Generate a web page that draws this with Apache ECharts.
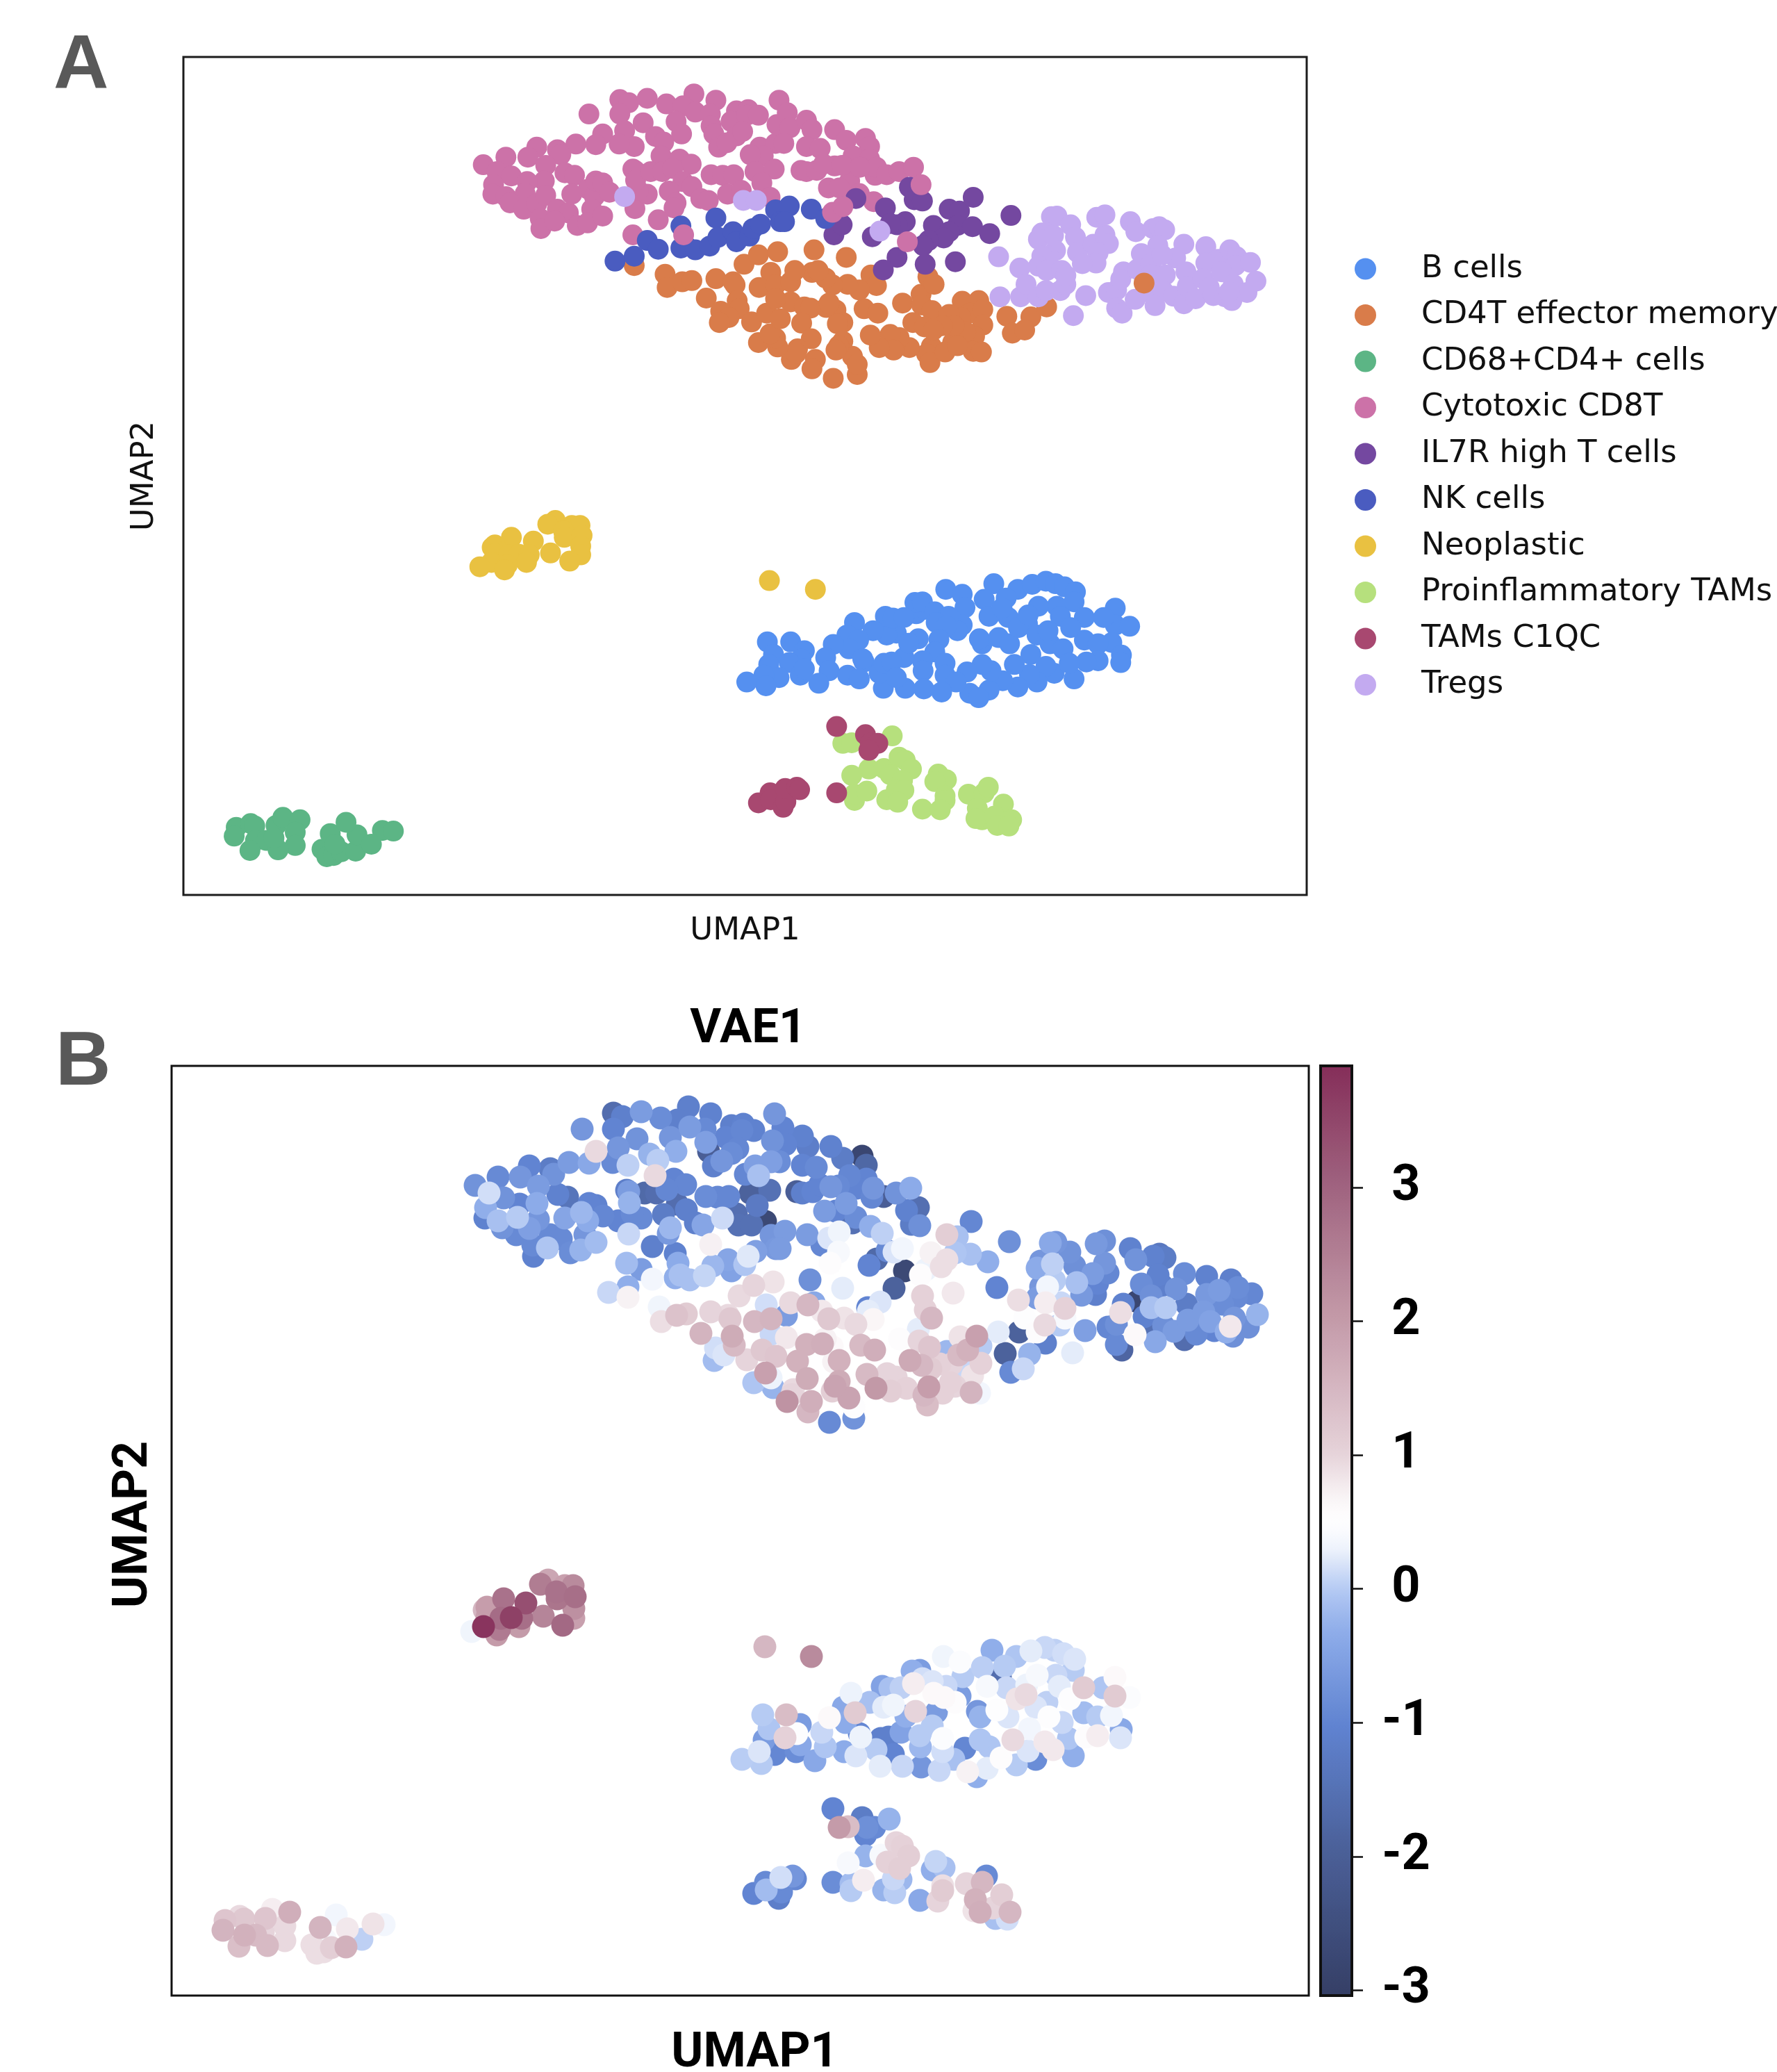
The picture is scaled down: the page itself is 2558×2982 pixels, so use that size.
<!DOCTYPE html>
<html><head><meta charset="utf-8">
<style>html,body{margin:0;padding:0;background:#fff}#c{width:2558px;height:2982px}</style>
<script src="https://cdn.jsdelivr.net/npm/echarts@6/dist/echarts.min.js"></script>
</head><body><div id="c"></div>
<script>
// Each row: [UMAP1, UMAP2, VAE1]. The embedding has no printed ticks, so its units are those of the picture.
const categories = ['B cells','CD4T effector memory','CD68+CD4+ cells','Cytotoxic CD8T','IL7R high T cells','NK cells','Neoplastic','Proinflammatory TAMs','TAMs C1QC','Tregs'];
const colorTicks = [-3,-2,-1,0,1,2,3];
const bCells = [[1358,2384,.33],[1382,2392,.45],[1428,2375,-.3],[1414,2400,.03],[1386,2413,0],[1463,2384,-.05],[1484,2376,.25],[1446,2398,0],[1504,2371,.1],[1518,2375,.05],[1531,2380,.15],[1547,2388,.2],[1520,2411,.1],[1493,2411,.4],[1545,2404,0],[1525,2427,.25],[1560,2429,1.15],[1605,2414,.6],[1605,2441,1.15],[1588,2429,-.05],[1626,2443,.45],[1560,2465,-.15],[1600,2469,.35],[1580,2471,0],[1614,2489,-.4],[1613,2501,.2],[1580,2498,.75],[1563,2500,.55],[1545,2527,-.3],[1516,2518,.8],[1504,2507,.8],[1540,2445,.5],[1510,2471,.5],[1529,2479,.1],[1538,2502,-.05],[1491,2532,-.85],[1482,2488,.35],[1480,2520,.2],[1458,2504,.95],[1463,2540,0],[1441,2530,.55],[1421,2545,.25],[1393,2550,.7],[1406,2557,-.3],[1424,2514,-.05],[1411,2504,-.05],[1389,2516,-.95],[1411,2471,-.25],[1407,2463,-.7],[1382,2441,-.6],[1375,2450,.55],[1435,2461,.5],[1451,2471,.2],[1449,2429,.1],[1421,2427,.4],[1477,2439,.95],[1464,2445,.85],[1491,2457,.2],[1478,2425,.3],[1507,2450,.05],[1440,2414,-1.6],[1315,2423,.75],[1328,2416,.15],[1313,2405,-.3],[1324,2404,-.6],[1342,2420,.2],[1362,2427,.1],[1344,2437,.6],[1359,2443,.6],[1318,2463,1],[1348,2464,-.6],[1342,2484,0],[1324,2498,0],[1325,2514,-.2],[1357,2502,.45],[1357,2521,.15],[1373,2532,-.1],[1352,2548,.1],[1326,2543,-.7],[1299,2542,.1],[1267,2542,.25],[1297,2493,-.5],[1286,2454,.33],[1272,2457,.25],[1304,2470,-.3],[1270,2427,-.5],[1281,2430,-.1],[1297,2429,.05],[1252,2450,-.1],[1225,2437,.3],[1214,2457,-.4],[1231,2465,1.15],[1217,2479,-.35],[1194,2472,.6],[1183,2493,.1],[1188,2514,-.05],[1173,2534,-.4],[1215,2521,-.35],[1239,2500,.3],[1237,2495,-.95],[1232,2527,.2],[1261,2518,0],[1268,2502,-1.1],[1279,2500,-1.1],[1286,2525,-1],[1132,2468,1.4],[1098,2468,0],[1107,2488,-.05],[1152,2482,-.6],[1147,2495,.5],[1130,2501,1.05],[1100,2504,-.6],[1115,2525,-.95],[1146,2521,-.85],[1093,2521,.2],[1096,2538,0],[1068,2532,.02],[1152,2511,-.4]];
const cd4t = [[904,1867,.7],[949,1881,.33],[952,1902,.9],[974,1893,1.3],[988,1891,1.15],[1023,1888,1],[1009,1919,1.55],[1048,1893,.95],[1051,1898,1.2],[1064,1865,.95],[1085,1850,1],[1113,1845,.85],[1054,1923,1.7],[1057,1936,1.45],[1030,1940,.15],[1042,1950,.2],[1028,1958,-.15],[1103,1878,.15],[1086,1902,1.5],[1110,1898,1.55],[1166,1842,-.8],[1213,1854,.25],[1132,1893,-.6],[1132,1925,.8],[1152,1933,.5],[1161,1935,1.6],[1184,1934,1.65],[1198,1938,.6],[1188,1927,.7],[1148,1959,1.6],[1208,1958,1.6],[1200,1960,.7],[1239,1936,1.45],[1259,1943,1.65],[1295,1927,.55],[1322,1913,.25],[1332,1885,1.05],[1341,1897,1.5],[1323,1930,1],[1338,1939,1.25],[1382,1924,.85],[1406,1923,1.9],[1393,1943,1.6],[1380,1950,1.45],[1363,1945,-.2],[1412,1937,0],[1412,1962,1.05],[1400,1980,.85],[1387,1973,.1],[1398,2004,1.55],[1368,1990,1.05],[1370,1963,1],[1353,1963,1.05],[1337,1996,1.95],[1330,2008,1.5],[1335,2022,1.4],[1357,2005,1.05],[1375,1995,1],[1310,1958,1.75],[1327,1965,1.5],[1340,1970,1.15],[1305,1998,1.05],[1290,1982,1],[1277,1977,1],[1282,2002,1.1],[1261,1998,2.05],[1248,1978,1.45],[1222,2012,1.85],[1208,1988,1.7],[1202,1995,1.85],[1198,2002,1.1],[1168,2017,1.65],[1163,2032,1.5],[1162,1984,1.7],[1142,2000,.95],[1133,2017,2.15],[1140,2007,1],[1194,2047,-.9],[1229,2041,-.75],[1229,2025,.5],[1113,1997,-.25],[1085,1990,-.05],[1110,1983,.3],[1102,1976,1.9],[1410,2005,.35],[1249,1882,-1],[1250,1887,.25],[1257,1899,.65],[1232,1906,.95],[1215,1897,.85],[1193,1898,1.2],[1183,1887,.8],[1163,1878,1.5],[1138,1875,.95],[1172,1875,-.4],[1075,1957,1],[1097,1943,1.2],[1117,1952,1.25],[1110,1920,.1],[1447,1948,-1.9],[1482,1949,-.25],[1505,1933,-1.1],[1455,1975,-.9],[1473,1970,.1]];
const cd4tOverTregs = [[1647,1895,-1.05]];
const cd68cd4 = [[324,2764,1.25],[345,2758,.95],[351,2762,1.2],[321,2778,1.55],[352,2785,1.6],[368,2785,1.45],[344,2801,1.35],[382,2761,1.25],[392,2748,.75],[417,2752,1.65],[410,2772,.95],[410,2793,.95],[385,2800,1.45],[379,2781,1],[461,2774,1.55],[449,2799,.9],[456,2811,.9],[466,2809,.9],[477,2803,1.1],[498,2802,1.6],[500,2776,.8],[537,2769,.85],[553,2770,.35],[521,2791,.05],[484,2756,.35],[468,2791,.4]];
const cytotoxic = [[838,1625,-.7],[858,1657,.95],[883,1602,-1.6],[896,1607,-1.1],[923,1600,-.6],[951,1609,-.85],[991,1593,-1.1],[1023,1603,-1.05],[975,1612,-1.1],[993,1622,-.6],[1015,1625,-.9],[1016,1644,-.55],[883,1625,-1],[917,1639,-.75],[890,1652,-.7],[965,1637,-.7],[973,1657,-.3],[935,1661,-.25],[947,1670,.02],[904,1677,.05],[882,1673,-.9],[943,1692,.95],[848,1674,-.4],[819,1673,-.6],[762,1678,-1],[749,1694,-.7],[792,1682,-1.2],[797,1690,-.75],[717,1694,-.9],[684,1706,-.75],[704,1717,.15],[725,1724,-.75],[775,1707,-.6],[803,1719,-1.05],[817,1723,-1.4],[773,1732,-.35],[748,1733,-1],[699,1738,-.3],[698,1753,-1.05],[717,1757,-.1],[745,1752,0],[723,1767,-.75],[743,1777,-.9],[762,1768,-.55],[775,1755,-.7],[792,1777,-.9],[808,1783,-.9],[767,1792,-.9],[768,1808,-1.05],[788,1796,-.05],[821,1803,-.85],[837,1745,-.2],[813,1753,-.45],[846,1757,-.35],[848,1732,-1],[858,1735,-1.05],[868,1750,-.95],[842,1777,-.7],[836,1799,-.25],[858,1788,-.15],[905,1776,.1],[923,1753,-.9],[910,1747,-.9],[902,1713,-1.15],[905,1715,-.6],[906,1731,-.25],[928,1717,-1.7],[945,1717,-1.6],[970,1697,-1],[987,1705,-.95],[960,1712,-.95],[975,1733,-1.6],[955,1748,-1.2],[988,1741,-1.1],[965,1767,-.2],[962,1775,-.65],[939,1794,-1.1],[1001,1760,-1.1],[1012,1763,-.45],[1016,1722,-.85],[1033,1723,-.95],[1049,1722,-.95],[1040,1753,.12],[902,1818,-.15],[1020,1657,-2],[1053,1620,-1.1],[1070,1618,-1.05],[1045,1637,-1],[1053,1660,-.85],[1068,1627,-.95],[1085,1627,-1.05],[1027,1678,-1.1],[1039,1671,-.7],[1062,1653,-.95],[1087,1678,-.55],[1110,1672,-.55],[1092,1692,-.1],[1073,1690,-.95],[1115,1603,-.7],[1112,1642,-.75],[1080,1717,-1.9],[1108,1713,-1.5],[1090,1735,-1.25],[1060,1747,-1.55],[1102,1758,-2.7],[1127,1623,-1],[1131,1647,-1],[1155,1635,-1.05],[1163,1650,-1.15],[1196,1650,-1.05],[1213,1667,-1.2],[1241,1664,-2.8],[1247,1677,-1.75],[1155,1677,-1],[1175,1680,-.9],[1122,1672,-.85],[1223,1692,-.95],[1247,1697,-1],[1147,1715,-2],[1155,1717,-1.1],[1170,1715,-1],[1196,1708,-.7],[1218,1732,-.6],[1187,1743,-.6],[1203,1743,-1],[1232,1752,-.85],[1255,1723,-.95],[1257,1710,-.7],[1272,1722,-2],[1290,1717,-.75],[1311,1710,-.35],[1253,1765,-.3],[1180,1705,-1],[1207,1707,-.9],[1233,1710,-1]];
const cytotoxicOver = [[976,1818,-.35],[1193,1782,.2],[1208,1773,.33],[1302,1829,-2.7],[1322,1738,-1.55]];
const il7r = [[1305,1742,-1.05],[1227,1760,-1.5],[1270,1775,.05],[1312,1762,-1.2],[1324,1764,-.8],[1363,1777,1.1],[1378,1780,-.1],[1375,1803,-.05],[1397,1805,-.1],[1422,1816,-.3],[1340,1803,.7],[1363,1813,.9],[1355,1823,.9],[1333,1827,.3],[1325,1835,.55],[1328,1865,1.05],[1372,1861,.8],[1287,1854,-1.9],[1267,1874,.2],[1299,1797,.35],[1287,1802,.2],[1277,1800,-.9],[1251,1821,-1],[1195,1818,.55],[1207,1802,.4],[1398,1758,-.95],[1453,1787,-.8]];
const nk = [[972,1804,-1.05],[1023,1791,.72],[979,1835,-.1],[972,1839,-.3],[993,1842,-.1],[1014,1836,.08],[1026,1822,-.2],[1048,1813,-.45],[1053,1829,-.5],[1072,1820,-.05],[1077,1808,.22],[1088,1801,-.55],[923,1827,-.6],[939,1841,.36],[876,1860,.1],[904,1852,-.3],[1110,1778,-.7],[1117,1797,-.65],[1130,1772,-.6],[1123,1797,-.6],[1162,1777,-.6],[1183,1792,-.95]];
const neoplastic = [[1101,2370,1.5],[1168,2384,2.3],[789,2274,1.8],[813,2282,1.9],[778,2280,2.55],[825,2282,2.3],[801,2291,2.75],[802,2301,2.7],[828,2298,2.8],[826,2315,2.2],[826,2329,1.9],[725,2301,2.75],[757,2307,3.35],[701,2313,1.95],[697,2317,1.5],[701,2327,1.9],[721,2329,2.85],[736,2328,3.6],[751,2329,2.8],[782,2326,2.4],[810,2339,2.9],[696,2341,3.8],[747,2341,2],[719,2345,2.6],[715,2353,2],[679,2348,.33]];
const proinflammatory = [[1208,2630,2],[1221,2629,1.4],[1280,2618,-.25],[1246,2671,-.25],[1268,2670,.4],[1290,2652,1],[1299,2657,1.05],[1308,2671,1.1],[1277,2680,1.05],[1295,2689,1.1],[1221,2681,.4],[1225,2721,0],[1225,2711,-.15],[1243,2706,.75],[1286,2704,.1],[1297,2705,-.2],[1272,2720,-.25],[1288,2724,.02],[1324,2735,-.4],[1347,2679,.08],[1359,2688,-.1],[1342,2691,-.3],[1357,2714,.9],[1357,2721,1.15],[1350,2736,1],[1391,2711,1],[1414,2709,1.5],[1420,2700,-.9],[1404,2734,1.6],[1411,2752,1.65],[1402,2750,.85],[1442,2727,1.1],[1429,2746,1],[1454,2752,1.5],[1433,2761,-.1],[1450,2762,.15]];
const tamsC1qc = [[1199,2603,-1],[1241,2616,-1.2],[1248,2630,-.8],[1259,2630,-.9],[1246,2641,-1],[1199,2709,-.85],[1085,2725,-1],[1102,2709,-.9],[1103,2720,-.15],[1121,2732,-1.15],[1125,2723,-.9],[1124,2702,.15],[1141,2700,-.7],[1145,2704,-.95]];
const tregs = [[1435,1853,-1],[1437,1917,.25],[1544,1947,.25],[1466,1871,.9],[1467,1917,-1.9],[1475,1897,.5],[1493,1917,.55],[1504,1907,.95],[1525,1907,0],[1533,1897,.4],[1562,1915,-.55],[1512,1789,-.4],[1520,1788,-.7],[1540,1802,-.75],[1498,1815,-.7],[1493,1825,-.35],[1515,1819,.05],[1547,1822,-.8],[1518,1843,0],[1508,1852,.35],[1498,1852,-.7],[1493,1868,-.6],[1505,1875,.75],[1527,1875,.1],[1533,1883,1.05],[1550,1846,-.1],[1573,1833,-.6],[1590,1818,-.7],[1578,1790,-.65],[1590,1786,-.8],[1595,1832,-.95],[1580,1847,-1],[1577,1863,-1.1],[1557,1864,-.65],[1595,1910,-.95],[1607,1906,-.8],[1607,1935,-.9],[1615,1943,-1.8],[1617,1877,-1.05],[1613,1889,.9],[1634,1921,.6],[1637,1873,-2.8],[1627,1797,-1.05],[1635,1813,-.75],[1660,1808,-1.05],[1669,1805,-1.3],[1677,1810,-1.2],[1667,1835,-1.05],[1705,1833,-.85],[1643,1848,-.85],[1657,1865,-.8],[1693,1855,-.75],[1673,1850,-1.1],[1657,1882,-.1],[1678,1882,0],[1708,1877,-1.2],[1655,1910,-1.5],[1675,1908,-.8],[1663,1931,-.4],[1690,1916,-.6],[1705,1928,-1.6],[1710,1900,-.6],[1722,1920,-.9],[1737,1837,-1.05],[1755,1857,-.6],[1737,1863,-.65],[1733,1888,-.6],[1742,1902,-.5],[1748,1915,-1],[1772,1842,-1.1],[1782,1853,-.85],[1780,1867,-.9],[1802,1862,-.95],[1760,1877,-.85],[1777,1897,-.7],[1797,1910,-.8],[1765,1917,-.3],[1775,1923,-.8],[1771,1909,.8],[1810,1892,-.25],[890,1757,-1],[1063,1763,-1.5],[1082,1763,-1.5],[1262,1812,-1.7]];

const umap1Range = [247, 1884], umap2Range = [1534, 2872], vaeRange = [-3.04, 3.91];
const clusterColors = ['#5590f0','#d97c4a','#5cb585','#cc72a8','#7448a0','#4a5cc0','#e9c141','#b6e07d','#a84870','#c3aaf0'];
const clusterRows = [bCells,cd4t,cd68cd4,cytotoxic,il7r,nk,neoplastic,proinflammatory,tamsC1qc,tregs];
const overlays = [[1,cd4tOverTregs],[3,cytotoxicOver]];
const rampStops = [[-3.04,'#353f66'],[-2,'#4a5e96'],[-1,'#6084d2'],[-.3,'#90aeea'],[0,'#b4caf3'],[.3,'#eef3fc'],[.5,'#ffffff'],[.7,'#f8f3f5'],[1,'#e6d3da'],[2,'#c49ba9'],[3,'#a06480'],[3.91,'#852e59']];

function hex(c){return [1,3,5].map(i=>parseInt(c.substr(i,2),16));}
function ramp(n){const out=[];for(let i=0;i<n;i++){const v=vaeRange[0]+(vaeRange[1]-vaeRange[0])*i/(n-1);let k=0;while(k<rampStops.length-2&&v>rampStops[k+1][0])k++;const a=rampStops[k],b=rampStops[k+1],t=(v-a[0])/(b[0]-a[0]),ca=hex(a[1]),cb=hex(b[1]);out.push('rgb('+ca.map((x,j)=>Math.round(x+(cb[j]-x)*t)).join(',')+')');}return out;}

const allRows = clusterRows.concat(overlays.map(o=>o[1])).flat().slice().sort((p,q)=>p[2]-q[2]);
const series = [];
clusterRows.forEach((rows,i)=>series.push({name:categories[i],type:'scatter',xAxisIndex:0,yAxisIndex:0,data:rows,symbolSize:30,itemStyle:{color:clusterColors[i],opacity:1},encode:{x:0,y:1},silent:true}));
overlays.forEach(o=>series.push({name:categories[o[0]],type:'scatter',xAxisIndex:0,yAxisIndex:0,data:o[1],symbolSize:30,itemStyle:{color:clusterColors[o[0]],opacity:1},encode:{x:0,y:1},silent:true}));
const vaeIndex = series.length;
series.push({name:'VAE1',type:'scatter',xAxisIndex:1,yAxisIndex:1,data:allRows,symbolSize:33,itemStyle:{opacity:1},encode:{x:0,y:1},silent:true});

const hiddenAxis = {axisLine:{show:false},axisTick:{show:false},axisLabel:{show:false},splitLine:{show:false}};
const chart = echarts.init(document.getElementById('c'),null,{renderer:'canvas'});
chart.setOption({
  animation:false, backgroundColor:'#ffffff',
  title:[
    {text:'A',left:77,top:41,padding:0,textStyle:{fontFamily:'Liberation Sans',fontWeight:'bold',fontSize:110,color:'#595959'}},
    {text:'B',left:80,top:1476,padding:0,textStyle:{fontFamily:'Liberation Sans',fontWeight:'bold',fontSize:110,color:'#595959'}},
    {text:'VAE1',left:1077,textAlign:'center',top:1448,padding:0,textStyle:{fontFamily:'Roboto',fontWeight:'bold',fontSize:69,color:'#000'}}
  ],
  legend:{data:categories,orient:'vertical',left:1950,top:362,padding:0,itemWidth:31,itemHeight:31,itemGap:16.5,icon:'circle',selectedMode:false,
    textStyle:{fontFamily:'DejaVu Sans',fontSize:45,lineHeight:50,color:'#111',padding:[0,0,0,60]}},
  grid:[
    {left:264,top:82,width:1617,height:1206,show:true,borderColor:'#1c1c1c',borderWidth:3,backgroundColor:'#fff',outerBoundsMode:'none'},
    {left:247,top:1534,width:1637,height:1338,show:true,borderColor:'#111',borderWidth:3,backgroundColor:'#fff',outerBoundsMode:'none'},
    {left:1901,top:1534,width:45,height:1338,show:true,borderColor:'#111',borderWidth:4,z:6,outerBoundsMode:'none'}
  ],
  xAxis:[
    {gridIndex:0,type:'value',min:umap1Range[0],max:umap1Range[1],name:'UMAP1',nameLocation:'middle',nameGap:30,nameTextStyle:{fontFamily:'DejaVu Sans',fontSize:45,color:'#111'},...hiddenAxis},
    {gridIndex:1,type:'value',min:umap1Range[0],max:umap1Range[1],name:'UMAP1',nameLocation:'middle',nameGap:49,nameTextStyle:{fontFamily:'Roboto',fontWeight:'bold',fontSize:70,color:'#000',padding:[0,0,0,42]},...hiddenAxis},
    {gridIndex:2,type:'value',min:0,max:1,show:false}
  ],
  yAxis:[
    {gridIndex:0,type:'value',inverse:true,min:umap2Range[0],max:umap2Range[1],name:'UMAP2',nameLocation:'middle',nameGap:33,nameRotate:90,nameTextStyle:{fontFamily:'DejaVu Sans',fontSize:45,color:'#111'},...hiddenAxis},
    {gridIndex:1,type:'value',inverse:true,min:umap2Range[0],max:umap2Range[1],name:'UMAP2',nameLocation:'middle',nameGap:19,nameRotate:90,nameTextStyle:{fontFamily:'Roboto',fontWeight:'bold',fontSize:70,color:'#000',padding:[0,0,0,18]},...hiddenAxis},
    {gridIndex:2,type:'value',position:'right',min:vaeRange[0],max:vaeRange[1],z:6,splitLine:{show:false},axisLine:{show:false,onZero:false},
      axisTick:{show:true,length:16,customValues:colorTicks,lineStyle:{color:'#111',width:2.5}},
      axisLabel:{show:true,customValues:colorTicks,margin:78,align:'center',padding:[12,0,0,0],fontFamily:'Roboto',fontWeight:'bold',fontSize:72,color:'#000'}}
  ],
  visualMap:{type:'continuous',seriesIndex:vaeIndex,dimension:2,min:vaeRange[0],max:vaeRange[1],left:1901,top:1534,padding:0,itemWidth:45,itemHeight:1338,calculable:false,showLabel:false,text:null,z:1,inRange:{color:ramp(80)}},
  series
});
</script></body></html>
